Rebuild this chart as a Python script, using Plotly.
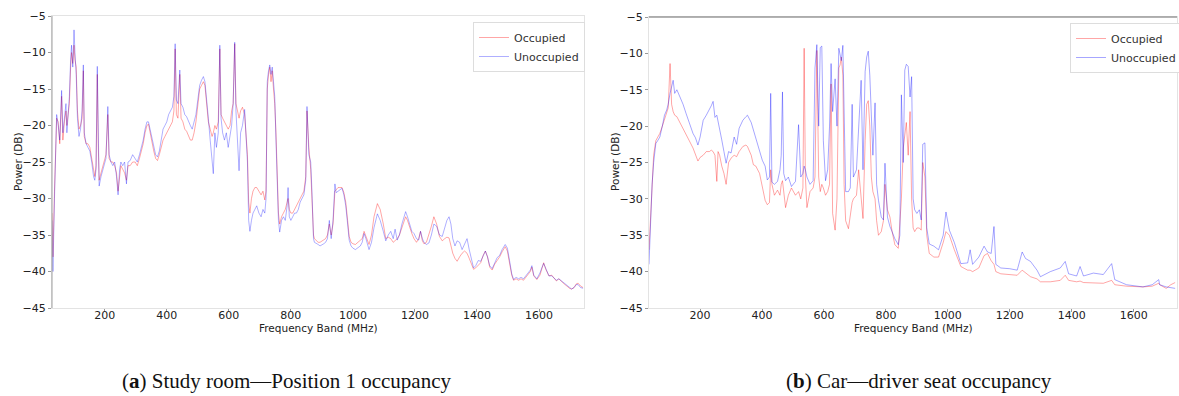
import plotly.graph_objects as go

# ---------------- data: (a) Study room ----------------
freq_a = [30, 33, 38, 42, 45, 50, 55, 61, 65, 70, 75, 78, 82, 86, 90, 93, 97, 101, 104, 108,
          112, 117, 122, 127, 131, 134, 140, 146, 152, 158, 164, 168, 172, 176, 179, 182, 188, 194, 199, 204,
          210, 214, 220, 226, 232, 238, 243, 248, 252, 258, 264, 270, 275, 282, 290, 298, 305, 312, 318, 324,
          330, 336, 341, 346, 352, 358, 364, 370, 376, 382, 388, 394, 400, 406, 412, 418, 423, 427, 431, 436,
          442, 446, 452, 458, 464, 470, 476, 482, 488, 494, 500, 506, 512, 518, 523, 528, 534, 540, 546, 550,
          555, 560, 566, 571, 575, 580, 586, 592, 598, 604, 609, 614, 619, 623, 628, 633, 638, 644, 651, 656,
          660, 664, 668, 673, 678, 684, 690, 697, 704, 710, 716, 720, 724, 728, 732, 736, 740, 744, 748, 752,
          756, 760, 764, 770, 776, 782, 788, 791, 795, 800, 806, 812, 818, 824, 830, 836, 842, 848, 852, 858,
          864, 868, 873, 876, 882, 888, 894, 900, 906, 912, 918, 924, 930, 936, 942, 946, 952, 958, 965, 971,
          977, 983, 988, 994, 1000, 1008, 1016, 1024, 1030, 1036, 1042, 1052, 1060, 1068, 1079, 1088, 1098, 1106, 1114, 1122,
          1130, 1136, 1143, 1150, 1158, 1164, 1170, 1176, 1184, 1190, 1197, 1205, 1212, 1218, 1224, 1229, 1237, 1245, 1253, 1261,
          1270, 1279, 1288, 1296, 1303, 1310, 1316, 1322, 1329, 1336, 1344, 1352, 1360, 1368, 1375, 1382, 1389, 1396, 1404, 1412,
          1420, 1427, 1434, 1441, 1449, 1457, 1465, 1473, 1481, 1491, 1498, 1505, 1512, 1518, 1526, 1534, 1542, 1550, 1558, 1566,
          1572, 1577, 1583, 1593, 1603, 1610, 1615, 1622, 1632, 1641, 1648, 1656, 1664, 1673, 1681, 1690, 1698, 1705, 1713, 1720,
          1726, 1734, 1742]

unocc_a = [-33, -40, -30, -22, -18.5, -20, -22, -15.2, -21, -19, -17, -21, -19, -16, -11, -9, -12, -6.9, -10, -13,
           -19, -21.5, -20.5, -18, -11.7, -21, -22.5, -23, -23.5, -25, -27, -27.5, -26, -11.9, -22, -28.3, -27, -26, -25, -24.5,
           -17.4, -24, -25, -25.5, -25, -27, -29.5, -26, -25, -25.5, -25, -28, -25, -24.8, -24, -24.5, -25, -24, -23, -22,
           -20.5, -19.5, -19.5, -20.5, -21.5, -23, -24, -24.3, -23.5, -22, -20.5, -20, -19.5, -18.5, -18, -17.5, -16, -8.8, -16.5, -17,
           -12.4, -17, -17.5, -18.5, -18.8, -19.5, -20, -20.5, -19.5, -18.5, -16.5, -14.5, -13.8, -13.3, -14, -16, -19, -22, -25, -26.6,
           -21, -23, -21, -9.0, -19, -21, -22, -21, -23, -21.5, -20, -17, -8.6, -18, -22, -26.2, -21, -20, -17.8, -22,
           -25, -33, -34.5, -33, -32, -31.5, -31, -32, -32.5, -31.5, -32, -30, -14, -12.5, -11.7, -13, -12, -14, -16, -22,
           -28, -33, -34.6, -33, -32.5, -33, -31, -28.5, -32.5, -33, -32.5, -32, -32, -31.5, -30.5, -30, -29.5, -27.5, -17.4, -24,
           -25, -29, -35.5, -36, -36.1, -36.3, -36.5, -36.4, -36.2, -36, -35.5, -33, -35.5, -33, -28, -29.2, -29, -28.8, -28.6, -29.5,
           -31, -33.5, -35.7, -36.5, -36.8, -37, -36.8, -36.5, -36, -34.8, -35.5, -37, -36, -34, -32.1, -33, -34.5, -35.8, -35, -34.5,
           -35.5, -34.2, -35.7, -35, -33.5, -32.5, -31.8, -32.5, -33.8, -34.5, -34.8, -35.5, -35.7, -34.5, -35.5, -36, -36.3, -36.1, -35, -33.5,
           -33.8, -35, -35.2, -34, -33, -32.5, -33.5, -35.5, -36.5, -35.8, -36, -37, -36.2, -35.5, -37, -38.5, -39.5, -39.2, -38.5, -38.6,
           -37.8, -37.2, -38, -39.2, -39.6, -38.8, -38.1, -37.8, -37, -36.3, -36.8, -38.5, -40.3, -41.1, -40.8, -41, -40.8, -41, -40.6, -40.2,
           -39.8, -39.2, -40.5, -41, -40.2, -39.4, -38.9, -39.6, -40.6, -40.6, -40.9, -41.2, -41, -41.3, -41.6, -41.9, -42.2, -42.4, -42.2, -41.8,
           -41.8, -42.2, -42.3]

occ_a = [-32, -38, -29, -21, -19, -19.5, -22.5, -16, -22, -19.5, -18, -20, -18.5, -17, -12, -10, -11.5, -9, -11, -12,
         -18, -20.5, -20, -19, -12.5, -21.5, -22.5, -22.5, -23, -24.5, -26.5, -27, -25.5, -13, -22.5, -27.5, -26.5, -25.5, -25, -24,
         -18.5, -24.5, -25, -25, -25.5, -26.5, -29, -26.5, -25.5, -26, -26.5, -27.5, -25.5, -25.5, -25, -25, -25.5, -24.5, -23.5, -22.5,
         -21, -20, -19.8, -21, -22, -23.5, -24.5, -24.8, -24, -23, -22, -21.5, -21, -20.5, -20, -19.5, -18, -9.5, -18.5, -19,
         -13, -19, -19.5, -20.5, -20.8, -21.5, -22, -22, -21, -19.5, -17, -15, -14.5, -14, -14.5, -17, -19.5, -20.5, -21.5, -21,
         -20, -20.5, -19.5, -9.5, -18.5, -19, -19.5, -20, -20.5, -20, -18, -17, -8.8, -17, -18, -19, -18, -17.5, -18.5, -21,
         -24, -30.5, -32, -30, -29, -28.5, -28.5, -29, -29.5, -29, -30.2, -29, -15, -13, -12, -14, -12.5, -15, -17, -21,
         -27, -32, -33.5, -32.5, -32, -31.5, -30.5, -30, -31.5, -32, -32, -31.5, -31, -30.5, -30, -29.5, -29, -27, -18, -23,
         -26, -30, -35, -35.5, -35.8, -36, -36, -35.8, -35.6, -35.5, -35, -33.5, -35, -33.5, -29, -28.8, -28.5, -28.5, -28.5, -29.2,
         -30.5, -33, -35.2, -36, -36.2, -36.3, -36, -35.8, -35.5, -34.5, -35.2, -36.3, -35, -32.5, -30.7, -31.5, -33.5, -35.5, -35.3, -35.5,
         -36, -35.8, -35.5, -35, -34, -33, -32.5, -33, -34.2, -34.8, -35.5, -36, -35.5, -34.5, -35.8, -36.2, -36, -35, -33.8, -32.5,
         -33.5, -35.2, -35.8, -35.5, -35.3, -35.4, -36.5, -37.5, -38.2, -38.6, -38, -37.5, -37.2, -37.5, -38.2, -39, -39.7, -39.5, -39.2, -38.8,
         -37.8, -37.2, -38, -39.4, -39.8, -39, -38.5, -38, -37.3, -36.6, -37.2, -38.8, -40.5, -41.2, -41, -41.2, -41, -41.2, -40.8, -40.4,
         -40, -39.4, -40.6, -41.1, -40.5, -39.5, -38.8, -39.7, -40.6, -40.5, -40.9, -41.3, -41, -41.4, -41.7, -42, -42.3, -42.4, -42.2, -41.7,
         -41.6, -42, -42.2]

# ---------------- data: (b) Car ----------------
freq_b = [35, 40, 45, 50, 57, 63, 70, 78, 85, 92, 97, 103, 108, 113, 118, 125, 135, 145, 155, 165,
          177, 185, 193, 200, 210, 220, 230, 236, 242, 248, 254, 258, 263, 270, 277, 284, 292, 300, 310, 318,
          326, 338, 348, 353, 365, 372, 380, 392, 401, 410, 417, 424, 428, 432, 440, 450, 458, 462, 466, 470,
          476, 485, 495, 508, 518, 525, 532, 536, 540, 545, 555, 565, 571, 577, 583, 588, 593, 598, 605, 612,
          618, 623, 628, 636, 642, 648, 652, 656, 661, 665, 670, 679, 685, 691, 695, 705, 712, 720, 726, 733,
          738, 743, 748, 753, 758, 765, 770, 776, 785, 792, 797, 805, 813, 820, 829, 840, 845, 850, 856, 861,
          866, 872, 878, 883, 888, 893, 900, 908, 914, 919, 926, 932, 940, 955, 970, 985, 994, 1005, 1021, 1042,
          1064, 1072, 1080, 1100, 1117, 1128, 1140, 1149, 1155, 1171, 1200, 1224, 1240, 1251, 1267, 1288, 1299, 1331, 1363, 1379,
          1390, 1416, 1427, 1438, 1470, 1502, 1529, 1539, 1577, 1630, 1660, 1681, 1684, 1705, 1720, 1734]

unocc_b = [-39, -33, -28, -25, -22.4, -22, -21.5, -20, -18.5, -17.8, -17, -15.5, -14.5, -13.7, -15.5, -15, -16, -17, -18.3, -19.5,
           -21, -21.6, -22.6, -21.5, -19.2, -18.5, -17.8, -17.2, -16.6, -18.8, -18.5, -19.5, -20.5, -21.9, -23.5, -25.1, -23.5, -23.7, -21.5, -22.5,
           -20.3, -19.2, -18.7, -18.5, -19.5, -20.5, -21.5, -23.5, -24.7, -25.5, -27.4, -27, -15.5, -27.7, -28, -27.6, -26, -24, -15.3, -26.5,
           -27.5, -27, -28.3, -27.6, -19.8, -27, -26.5, -25.5, -26, -27, -28, -27.5, -12, -8.8, -20, -9.2, -9.0, -22, -27.5, -26,
           -20, -11.4, -18, -13.5, -20, -9.3, -10, -11, -8.9, -18, -29, -29, -28.5, -17, -27, -26, -20, -13.7, -26, -12.5,
           -10.5, -9.7, -13, -20, -24, -16.8, -28, -30.2, -32.5, -32.9, -25.1, -32.5, -33.8, -34.5, -35.5, -36.3, -35, -15.7, -25, -12.3,
           -11.5, -11.8, -16, -13.2, -30, -31.5, -32, -31.5, -32.9, -22.5, -22.3, -34, -36.2, -36.5, -37, -35, -31.8, -34.3, -36, -38.9,
           -38.8, -37, -39, -38, -36.5, -37.3, -37.5, -33.8, -39, -39.5, -39.6, -39.8, -37.3, -38.2, -38.6, -39.8, -40.7, -40, -39.5, -38.6,
           -40.3, -40.6, -39.3, -40.6, -40.2, -40.4, -38.9, -41.1, -41.8, -42.1, -41.8, -41.1, -41.8, -42.1, -42.2, -42.3]

occ_b = [-37, -32, -27.5, -24, -22, -21.5, -21, -20, -19, -18.2, -17.5, -11.4, -17, -18, -18.5, -18.7, -19.5, -20.3, -21, -22,
         -23, -24, -24.8, -24.3, -24, -23.5, -23.5, -23.3, -23.5, -24, -27.6, -23.5, -24, -25.5, -26.5, -28, -25, -24.4, -24, -24.2,
         -23.5, -22.8, -22.6, -22.8, -24, -25.3, -25.5, -26.5, -28.5, -30.2, -30.8, -30.5, -26, -28, -29.5, -28.8, -29.5, -28, -27.5, -29,
         -31.2, -29.5, -28.5, -29.5, -29, -30, -28.5, -9.3, -27, -31.2, -29, -28.5, -27, -9.6, -27, -29, -28, -28.5, -29.5, -29,
         -28, -14.2, -32, -34.3, -30, -12, -11.6, -10.5, -13, -28, -33, -34.1, -32, -30.5, -30, -29.5, -26, -30, -32.7, -22,
         -17, -16.5, -20, -27, -29, -30, -33, -35, -34.5, -33, -28, -31.5, -32.5, -34.5, -36.3, -36.8, -34, -30, -23, -21,
         -19.5, -24, -18, -30, -34, -34.5, -34, -34, -34.3, -25, -27, -35, -37.5, -38, -38, -36, -34.5, -35, -37, -39.3,
         -39.8, -39.8, -40, -39.5, -37.8, -37.5, -38.5, -39, -40, -40.3, -40.4, -40.5, -39.8, -40.2, -40.7, -41, -41.4, -41.4, -41.2, -40.5,
         -41.2, -41.4, -41.3, -41.5, -41.6, -41.6, -41.2, -41.8, -42, -42.1, -42, -41.6, -41.8, -42.3, -41.8, -41.5]

x_ticks = [200, 400, 600, 800, 1000, 1200, 1400, 1600]
y_ticks = [-45, -40, -35, -30, -25, -20, -15, -10, -5]
series_names = ["Occupied", "Unoccupied"]
captions = ["(<b>a</b>) Study room\u2014Position 1 occupancy",
            "(<b>b</b>) Car\u2014driver seat occupancy"]

# ---------------- figure ----------------
W, H = 1179, 396
RED = "rgba(255,0,0,0.5)"
BLUE_A = "rgba(0,0,255,0.45)"
BLUE_B = "rgba(0,0,255,0.5)"
TICKFONT = dict(family="DejaVu Sans", size=11, color="#222")


def px(x):
    return x / W


def py(y):
    return 1 - y / H


fig = go.Figure()
fig.add_trace(go.Scatter(x=freq_a, y=occ_a, mode="lines", name=series_names[0],
                         line=dict(color=RED, width=0.7), xaxis="x", yaxis="y", legend="legend"))
fig.add_trace(go.Scatter(x=freq_a, y=unocc_a, mode="lines", name=series_names[1],
                         line=dict(color=BLUE_A, width=0.7), xaxis="x", yaxis="y", legend="legend"))
fig.add_trace(go.Scatter(x=freq_b, y=occ_b, mode="lines", name=series_names[0],
                         line=dict(color=RED, width=0.7), xaxis="x2", yaxis="y2", legend="legend2"))
fig.add_trace(go.Scatter(x=freq_b, y=unocc_b, mode="lines", name=series_names[1],
                         line=dict(color=BLUE_B, width=0.7), xaxis="x2", yaxis="y2", legend="legend2"))

axis_common = dict(showgrid=False, zeroline=False, showline=True, linecolor="#e3e3e3", linewidth=1,
                   mirror=True, ticks="outside", ticklen=3, tickcolor="#999", tickfont=TICKFONT,
                   automargin=False)
x_extra = dict(ticklabelstandoff=-6)

legend_common = dict(xanchor="left", yanchor="top", bgcolor="white",
                     bordercolor="#dddddd", borderwidth=1,
                     font=dict(family="DejaVu Sans", size=11, color="#333"),
                     itemwidth=30, tracegroupgap=0)

fig.update_layout(
    template="none",
    width=W, height=H, autosize=False,
    margin=dict(l=0, r=0, t=0, b=0, pad=0, autoexpand=False),
    paper_bgcolor="white", plot_bgcolor="white",
    xaxis=dict(domain=[px(52), px(584)], range=[30, 1745], tickvals=x_ticks, anchor="y", **axis_common, **x_extra),
    yaxis=dict(domain=[py(308), py(16)], range=[-45, -5], tickvals=y_ticks, anchor="x", **axis_common),
    xaxis2=dict(domain=[px(649), px(1177)], range=[35, 1740], tickvals=x_ticks, anchor="y2", **axis_common, **x_extra),
    yaxis2=dict(domain=[py(308), py(17)], range=[-45, -5], tickvals=y_ticks, anchor="x2", **axis_common),
    legend=dict(x=px(473), y=py(22), **legend_common),
    legend2=dict(x=px(1070), y=py(23), **legend_common),
    showlegend=True,
)

# darker spines seen in the reference
fig.add_shape(type="line", xref="x domain", yref="y domain", x0=0, x1=0, y0=0, y1=1,
              line=dict(color="#a0a0a0", width=1))
fig.add_shape(type="line", xref="x2 domain", yref="y2 domain", x0=0, x1=1, y0=1, y1=1,
              line=dict(color="#9a9a9a", width=1.5))

ann_font = dict(family="DejaVu Sans", size=10.5, color="#222")
for cx in (18, 615):
    fig.add_annotation(text="Power (DB)", x=px(cx), y=py(162), xref="paper", yref="paper",
                       xanchor="center", yanchor="middle",
                       textangle=-90, showarrow=False, font=ann_font)
for cx in (318, 913):
    fig.add_annotation(text="Frequency Band (MHz)", x=px(cx), y=py(328), xref="paper", yref="paper",
                       xanchor="center", yanchor="middle", showarrow=False, font=ann_font)
for cx, txt in zip((286, 919), captions):
    fig.add_annotation(text=txt, x=px(cx), y=py(381), xref="paper", yref="paper", showarrow=False,
                       xanchor="center", yanchor="middle",
                       font=dict(family="Liberation Serif", size=21, color="#111"))

fig.write_html("out.html", config={"displayModeBar": False},
               post_script="document.body.style.margin='0px';")
